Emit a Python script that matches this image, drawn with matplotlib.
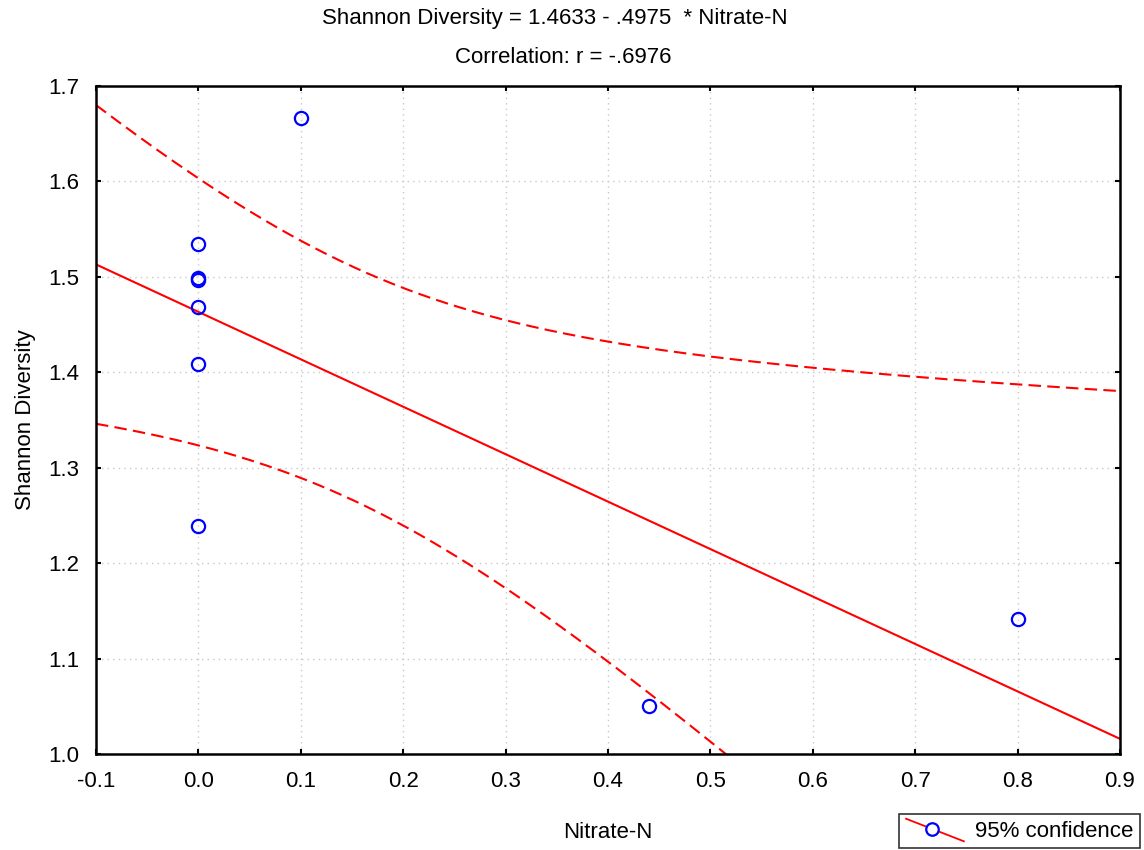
import matplotlib.pyplot as plt
import numpy as np
from matplotlib.lines import Line2D
from matplotlib.legend_handler import HandlerBase

plt.rcParams['font.family'] = ['Liberation Sans', 'DejaVu Sans']

# data
nitrate = [0.0, 0.0, 0.0, 0.0, 0.0, 0.0, 0.1, 0.44, 0.8]
diversity = [1.534, 1.499, 1.497, 1.468, 1.409, 1.239, 1.667, 1.050, 1.141]
x_ticks = [-0.1, 0.0, 0.1, 0.2, 0.3, 0.4, 0.5, 0.6, 0.7, 0.8, 0.9]
y_ticks = [1.0, 1.1, 1.2, 1.3, 1.4, 1.5, 1.6, 1.7]
t_975 = 2.3646  # Student t, 7 df

x = np.array(nitrate)
y = np.array(diversity)
n = len(x)
slope, intercept = np.polyfit(x, y, 1)
resid = y - (intercept + slope * x)
s = np.sqrt(np.sum(resid ** 2) / (n - 2))
sxx = np.sum((x - x.mean()) ** 2)

xs = np.linspace(-0.1, 0.9, 400)
fit = intercept + slope * xs
half = t_975 * s * np.sqrt(1 / n + (xs - x.mean()) ** 2 / sxx)

FS = 16


class DiagHandler(HandlerBase):
    def create_artists(self, legend, orig, xd, yd, w, h, fontsize, trans):
        ln = Line2D([xd, xd + w], [yd + h * 1.15, yd - h * 0.3], color='red', lw=1.3)
        mk = Line2D([xd + w * 0.45], [yd + h * 0.47], marker='o', ms=9, mfc='white',
                    mec='blue', mew=1.6, ls='none')
        ln.set_transform(trans)
        mk.set_transform(trans)
        return [ln, mk]


fig = plt.figure(figsize=(11.44, 8.5), dpi=100)
ax = fig.add_axes([0.0839, 0.1129, 0.8951, 0.7859])

ax.plot(xs, fit, color='red', lw=1.5)
ax.plot(xs, fit + half, color='red', lw=1.5, ls=(0, (6, 3)))
ax.plot(xs, fit - half, color='red', lw=1.5, ls=(0, (6, 3)))
pts, = ax.plot(x, y, 'o', ms=9.5, mfc='none', mec='blue', mew=1.6, clip_on=False)

ax.set_xlim(-0.1, 0.9)
ax.set_ylim(1.0, 1.7)
ax.set_xticks(x_ticks)
ax.set_yticks(y_ticks)
ax.set_xticklabels(['%.1f' % v for v in x_ticks])
ax.set_yticklabels(['%.1f' % v for v in y_ticks])
ax.tick_params(direction='in', top=True, right=True, length=3.5, width=1.5,
               labelsize=FS)
ax.tick_params(axis='x', pad=12)
ax.tick_params(axis='y', pad=12)
ax.grid(True, color='#c8c8c8', ls=(0, (1, 3)), lw=1)
for sp in ax.spines.values():
    sp.set_linewidth(1.8)

ax.set_xlabel('Nitrate-N', fontsize=FS, labelpad=22)
ax.set_ylabel('Shannon Diversity', fontsize=FS, labelpad=9)

fig.text(0.485, 0.978, 'Shannon Diversity = 1.4633 - .4975  * Nitrate-N',
         ha='center', va='center', fontsize=FS)
fig.text(0.492, 0.932, 'Correlation: r = -.6976', ha='center', va='center', fontsize=FS)

leg = fig.legend([pts], ['95% confidence'], handler_map={pts: DiagHandler()},
                 loc='lower right', bbox_to_anchor=(0.9965, 0.002), fontsize=FS,
                 frameon=True, fancybox=False, edgecolor='black', handlelength=2.6,
                 borderpad=0.3, handletextpad=0.5, borderaxespad=0)
leg.get_frame().set_linewidth(1.2)

fig.savefig('out.png', dpi=100)
